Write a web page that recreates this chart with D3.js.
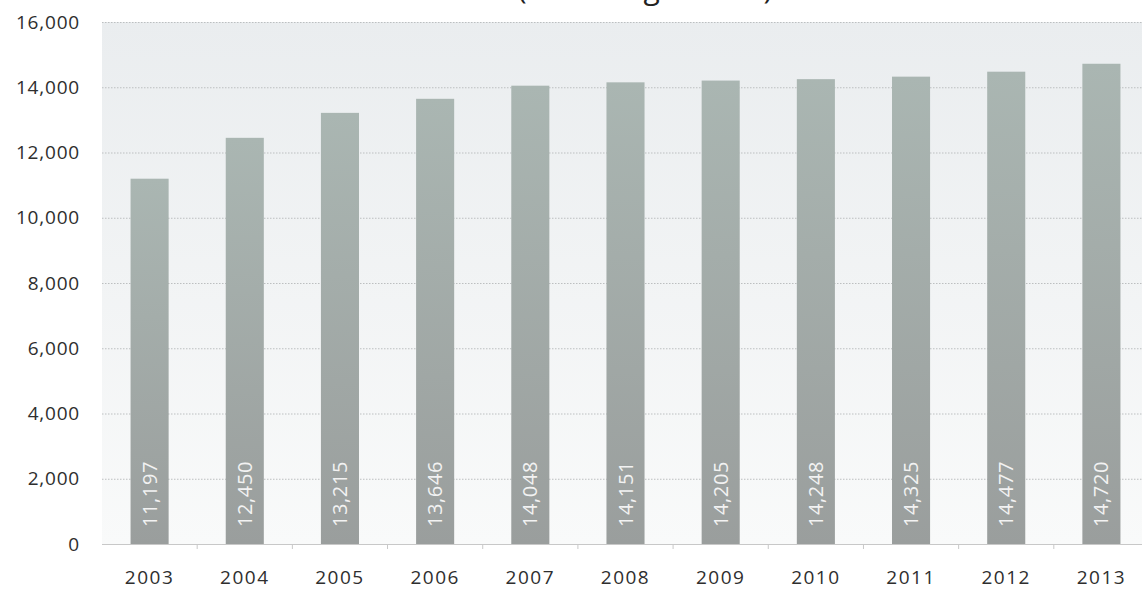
<!DOCTYPE html>
<html lang="en">

<head>
    <script src='https://d3js.org/d3.v7.min.js'></script>
    <style>
        body { margin: 0; background: #ffffff; }
    </style>
</head>

<body>
</body>

<script>

    // values
    const years = ['2003', '2004', '2005', '2006', '2007', '2008', '2009', '2010', '2011', '2012', '2013'];
    const values = [11197, 12450, 13215, 13646, 14048, 14151, 14205, 14248, 14325, 14477, 14720];
    const yTicks = [0, 2000, 4000, 6000, 8000, 10000, 12000, 14000, 16000];
    const titleText = '(Excluding Others)';

    const width = 1142;
    const height = 591;
    const plotLeft = 102;
    const plotRight = 1149;
    const plotTop = 22;
    const plotBottom = 544;
    const font = "'Open Sans', sans-serif";

    var x = d3.scaleBand()
                .domain(years)
                .range([plotLeft, plotRight])
                .paddingInner(0.6)
                .paddingOuter(0.3);

    var y = d3.scaleLinear()
                .domain([0, 16000])
                .range([plotBottom, plotTop]);

    var svg = d3.select("body")
                    .append("svg")
                    .attr("width", width)
                    .attr("height", height)
                    .style("font-family", font);

    var defs = svg.append("defs");

    var bg = defs.append("linearGradient")
                .attr("id", "bg")
                .attr("x1", 0).attr("y1", 0).attr("x2", 0).attr("y2", 1);
    bg.append("stop").attr("offset", "0%").attr("stop-color", "#eaedef");
    bg.append("stop").attr("offset", "100%").attr("stop-color", "#f9fafa");

    var barFill = defs.append("linearGradient")
                .attr("id", "barFill")
                .attr("x1", 0).attr("y1", 0).attr("x2", 0).attr("y2", 1);
    barFill.append("stop").attr("offset", "0%").attr("stop-color", "#aab6b2");
    barFill.append("stop").attr("offset", "100%").attr("stop-color", "#9a9e9d");

    // title, cut off by the top of the picture as in the original
    svg.append("text")
        .attr("x", 645)
        .attr("y", -1)
        .attr("text-anchor", "middle")
        .attr("font-size", 30)
        .attr("fill", "#222")
        .text(titleText);

    // plot area background
    svg.append("rect")
        .attr("x", plotLeft)
        .attr("y", plotTop)
        .attr("width", plotRight - plotLeft)
        .attr("height", plotBottom - plotTop)
        .attr("fill", "url(#bg)");

    // y axis with dotted gridlines
    var yAxis = svg.append("g")
                    .attr("transform", "translate(" + plotLeft + ",0)")
                    .call(d3.axisLeft(y)
                            .tickValues(yTicks)
                            .tickSize(-(plotRight - plotLeft))
                            .tickPadding(22)
                            .tickFormat(d3.format(",")));

    yAxis.attr("font-family", font);
    yAxis.select(".domain").remove();
    yAxis.selectAll(".tick line")
        .attr("stroke", function (d) { return d === 0 ? "#c8c8c8" : "#bcbfc0"; })
        .attr("stroke-dasharray", function (d) { return d === 0 ? null : "1.5,1.5"; });
    yAxis.selectAll(".tick text")
        .attr("font-size", 19)
        .attr("letter-spacing", 0.8)
        .attr("fill", "#2e2e2e");

    // bars
    svg.selectAll(".bar")
        .data(values)
        .enter()
        .append("rect")
        .attr("class", "bar")
        .attr("x", function (d, i) { return x(years[i]); })
        .attr("y", function (d) { return y(d); })
        .attr("width", x.bandwidth())
        .attr("height", function (d) { return y(0) - y(d); })
        .attr("fill", "url(#barFill)");

    // value labels, rotated inside the bars
    svg.selectAll(".value")
        .data(values)
        .enter()
        .append("text")
        .attr("class", "value")
        .attr("transform", function (d, i) {
            return "translate(" + (x(years[i]) + x.bandwidth() / 2 + 7) + "," + (plotBottom - 17) + ") rotate(-90)";
        })
        .attr("font-size", 20)
        .attr("letter-spacing", 0.6)
        .attr("fill", "#f2f2f2")
        .text(function (d) { return d3.format(",")(d); });

    // x axis
    var xAxis = svg.append("g")
                    .attr("transform", "translate(0," + plotBottom + ")")
                    .call(d3.axisBottom(x).tickSize(0).tickPadding(27));

    xAxis.attr("font-family", font);
    xAxis.select(".domain").remove();
    xAxis.selectAll(".tick text")
        .attr("font-size", 19)
        .attr("letter-spacing", 1.5)
        .attr("fill", "#2e2e2e");

    // small tick marks between categories
    svg.selectAll(".sep")
        .data(years.slice(1))
        .enter()
        .append("line")
        .attr("class", "sep")
        .attr("x1", function (d) { return x(d) - x.step() * x.paddingInner() / 2; })
        .attr("x2", function (d) { return x(d) - x.step() * x.paddingInner() / 2; })
        .attr("y1", plotBottom)
        .attr("y2", plotBottom + 5)
        .attr("stroke", "#c8c8c8");

</script>

</html>
